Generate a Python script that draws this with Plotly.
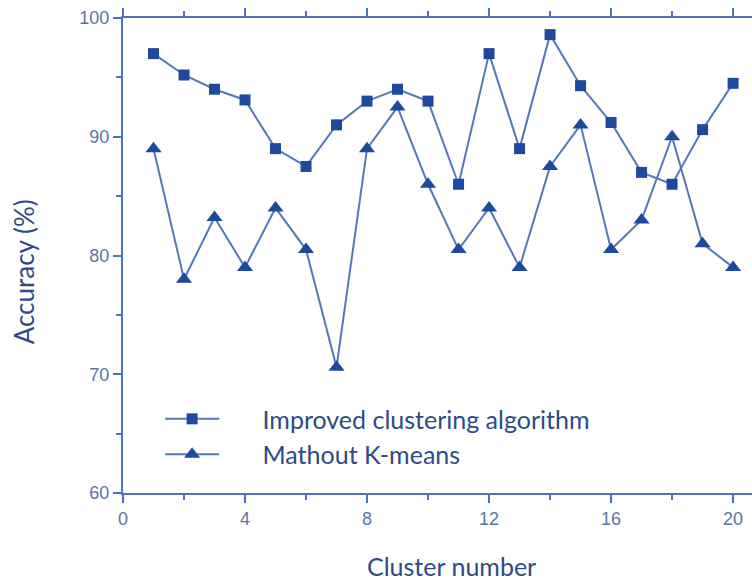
import plotly.graph_objects as go

cluster_number = list(range(1, 21))
improved_acc = [97, 95.2, 94, 93.1, 89, 87.5, 91, 93, 94, 93,
                86, 97, 89, 98.6, 94.3, 91.2, 87, 86, 90.6, 94.5]
kmeans_acc = [89, 78, 83.2, 79, 84, 80.5, 70.6, 89, 92.5, 86,
              80.5, 84, 79, 87.5, 91, 80.5, 83, 90, 81, 79]

x_ticks = [0, 4, 8, 12, 16, 20]
y_ticks = [60, 70, 80, 90, 100]

LINE = "#5577bb"
MARK = "#1c4a9c"
AXIS = "#4f72bd"
TICKTXT = "#5b74a8"
TITLETXT = "#2e4a88"
TITLEFONT = "Lato, Open Sans, sans-serif"

NB = "\u00a0"

fig = go.Figure()
fig.add_trace(go.Scatter(
    x=cluster_number, y=improved_acc, mode="lines+markers",
    name=NB * 6 + "Improved clustering algorithm",
    line=dict(color=LINE, width=2),
    marker=dict(symbol="square", size=11, color=MARK),
))
fig.add_trace(go.Scatter(
    x=cluster_number, y=kmeans_acc, mode="lines+markers",
    name=NB * 6 + "Mathout K-means",
    line=dict(color=LINE, width=2),
    marker=dict(symbol="triangle-up", size=14, color=MARK),
))

fig.update_layout(
    width=752, height=583,
    margin=dict(l=123, r=0, t=18, b=90),
    paper_bgcolor="white", plot_bgcolor="white",
    showlegend=True,
    legend=dict(
        x=0.059, y=0.204, xanchor="left", yanchor="top",
        bgcolor="rgba(0,0,0,0)", itemwidth=54,
        font=dict(family=TITLEFONT, size=25, color=TITLETXT),
    ),
)

# axis titles placed as annotations so their positions can be tuned
fig.add_annotation(
    text="Cluster number", xref="paper", yref="paper",
    x=0.522, y=-0.154, xanchor="center", yanchor="middle", showarrow=False,
    font=dict(family=TITLEFONT, size=25, color=TITLETXT),
)
fig.add_annotation(
    text="Accuracy (%)", xref="paper", yref="paper",
    x=-0.157, y=0.465, xanchor="center", yanchor="middle", showarrow=False,
    textangle=-90,
    font=dict(family=TITLEFONT, size=26, color=TITLETXT),
)

fig.update_xaxes(
    range=[0, 20.62], tickvals=x_ticks, ticktext=[str(v) for v in x_ticks],
    showgrid=False, zeroline=False,
    showline=True, linecolor=AXIS, linewidth=2, mirror="ticks",
    ticks="outside", ticklen=8, tickwidth=2, tickcolor=AXIS,
    minor=dict(dtick=2, tick0=0, ticks="outside", ticklen=5, tickwidth=1.5, tickcolor=AXIS),
    tickfont=dict(family="Liberation Sans, Arial, sans-serif", size=18, color=TICKTXT),
)
fig.update_yaxes(
    range=[60, 100], tickvals=y_ticks, ticktext=[str(v) for v in y_ticks],
    showgrid=False, zeroline=False,
    showline=True, linecolor=AXIS, linewidth=2, mirror=False,
    ticks="outside", ticklen=8, tickwidth=2, tickcolor=AXIS,
    minor=dict(dtick=5, tick0=60, ticks="outside", ticklen=5, tickwidth=1.5, tickcolor=AXIS),
    tickfont=dict(family="Liberation Sans, Arial, sans-serif", size=18, color=TICKTXT),
)

fig.write_html("out.html")
